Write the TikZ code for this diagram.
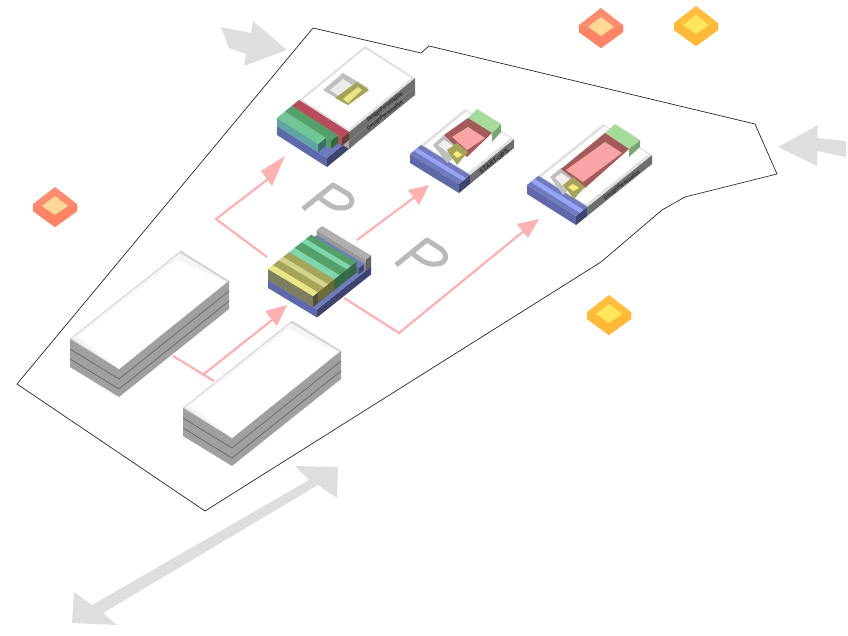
\documentclass[tikz,border=0pt]{standalone}
\usepackage{fontspec}
\setmainfont{Liberation Sans}
\usetikzlibrary{calc}
\definecolor{arr}{RGB}{222,222,222}
\definecolor{pk}{RGB}{255,176,176}
\definecolor{sg}{RGB}{160,160,160}
\definecolor{sd}{RGB}{105,105,105}
\definecolor{bluetop}{RGB}{112,122,190}
\definecolor{blueside}{RGB}{95,104,170}
\definecolor{bluelite}{RGB}{150,165,245}
\definecolor{ylite}{RGB}{232,230,135}
\definecolor{yolive}{RGB}{165,165,90}
\definecolor{ytan}{RGB}{212,212,140}
\definecolor{teal}{RGB}{125,215,170}
\definecolor{grn}{RGB}{85,160,105}
\definecolor{lgrn}{RGB}{165,220,155}
\definecolor{redtop}{RGB}{185,75,90}
\definecolor{rdark}{RGB}{165,90,90}
\definecolor{pinkf}{RGB}{250,165,165}
\definecolor{frame}{RGB}{224,224,224}
\definecolor{face}{RGB}{170,170,170}
\definecolor{backg}{RGB}{153,153,153}
\definecolor{backt}{RGB}{175,175,175}
\definecolor{oliveside}{RGB}{125,125,95}
\definecolor{tealside}{RGB}{95,165,165}
\definecolor{tealtop}{RGB}{113,198,150}
\definecolor{gemO}{RGB}{255,140,110}
\definecolor{gemOi}{RGB}{255,215,150}
\definecolor{gemOs}{RGB}{255,100,70}
\definecolor{gemY}{RGB}{255,190,60}
\definecolor{gemYi}{RGB}{255,230,90}
\definecolor{gemYs}{RGB}{255,165,30}
\tikzset{
 site/.style={draw=black!85,line width=.7pt},
 bigarrow/.style={fill=arr,draw=none},
 flow/.style={draw=pk,line width=2.2pt},
 flowtip/.style={fill=pk,draw=none},
 parkmark/.style={draw=black!27,line width=5pt,line join=round},
 micro/.style={font=\fontsize{5}{5.5}\selectfont\itshape\bfseries,text=black!85,inner sep=0pt},
}
% u0 u1 v0 v1 h0 h1 top side, relative to coordinates O, U, V
\newcommand{\ibox}[8]{%
 \coordinate (qa) at ($(O)+#1*(U)+#3*(V)+(0,-#6)$);
 \coordinate (qb) at ($(O)+#2*(U)+#3*(V)+(0,-#6)$);
 \coordinate (qc) at ($(O)+#2*(U)+#4*(V)+(0,-#6)$);
 \coordinate (qd) at ($(O)+#1*(U)+#4*(V)+(0,-#6)$);
 \coordinate (qe) at ($(O)+#1*(U)+#3*(V)+(0,-#5)$);
 \coordinate (qf) at ($(O)+#1*(U)+#4*(V)+(0,-#5)$);
 \coordinate (qg) at ($(O)+#2*(U)+#4*(V)+(0,-#5)$);
 \fill[#8] (qa) -- (qd) -- (qf) -- (qe) -- cycle;
 \fill[#8!65!black] (qd) -- (qc) -- (qg) -- (qf) -- cycle;
 \fill[#7] (qa) -- (qb) -- (qc) -- (qd) -- cycle;
}
% centre x y top inner side
\newcommand{\gem}[5]{%
 \begin{scope}[shift={(#1,#2)}]
 \fill[#5] (-22,-3) -- (0,13) -- (22,-3) -- (22,4) -- (0,20) -- (-22,4) -- cycle;
 \fill[#3] (-22,-3) -- (0,-20) -- (22,-3) -- (0,13) -- cycle;
 \fill[#3!80!#5] (-22,-3) -- (-13,0) -- (0,8) -- (13,0) -- (22,-3) -- (22,4) -- (0,20) -- (-22,4) -- cycle;
 \fill[#4] (-13,-1) -- (0,-11) -- (13,-1) -- (0,8) -- cycle;
 \end{scope}
}
% long building: L, back, right, front of the roof
\newcommand{\longblock}[4]{%
 \fill[sg] (#1) -- (#2) -- (#3) -- ($(#3)+(0,28)$) -- ($(#4)+(0,28)$) -- ($(#1)+(0,28)$) -- cycle;
 \draw[sd,line width=.7pt] ($(#1)+(0,10)$) -- ($(#4)+(0,10)$) -- ($(#3)+(0,10)$);
 \draw[sd,line width=.7pt] ($(#1)+(0,20)$) -- ($(#4)+(0,20)$) -- ($(#3)+(0,20)$);
 \fill[black!16] (#1) -- (#2) -- (#3) -- (#4) -- cycle;
 \fill[black!4] ($(#1)!.012!(#3)$) -- ($(#2)!.018!(#4)$) -- ($(#3)!.012!(#1)$) -- (#4) -- cycle;
 \fill[white] ($(#1)!.05!(#3)$) -- ($(#2)!.07!(#4)$) -- ($(#3)!.02!(#1)$) -- (#4) -- cycle;
}
\begin{document}
\begin{tikzpicture}[x=1pt,y=-1pt]
\useasboundingbox (0,0) rectangle (848,635);
% site boundary
\draw[site] (17,384) -- (313,28) -- (421,53) -- (429,46) -- (755,124) -- (777,174) -- (685,197) -- (662,210) -- (601,262) -- (205,511) -- cycle;
% big arrows
\fill[bigarrow] (221,27) -- (251,33) -- (253,21) -- (287,50) -- (244,66) -- (246,54) -- (229,48) -- cycle;
\fill[bigarrow] (818,125) -- (817,138) -- (846,141) -- (846,157) -- (817,151) -- (817,166) -- (778,147) -- cycle;
\fill[bigarrow] (338,467) -- (295,466) -- (309,480) -- (92,605) -- (74,592) -- (72,623) -- (117,625) -- (103,613) -- (318,485) -- (337,498) -- cycle;
% gems
\gem{601}{28}{gemO}{gemOi}{gemOs}
\gem{696}{26}{gemY}{gemYi}{gemYs}
\gem{55}{207}{gemO}{gemOi}{gemOs}
\gem{609}{315}{gemY}{gemYi}{gemYs}
% P marks
\draw[parkmark] (303,209) -- (333,185) -- (348,194) .. controls (355,200) and (352,208) .. (342,208) .. controls (335,209) and (328,205) .. (319,197);
\draw[parkmark] (396,265) -- (427,240) -- (441,249) .. controls (449,255) and (446,264) .. (436,264) .. controls (428,265) and (421,261) .. (412,253);
% pink connectors
\draw[flow] (267,257) -- (216,219) -- (268,179);
\fill[flowtip] (285,156) -- (272,186) -- (261,171) -- cycle;
\draw[flow] (357,240) -- (416,196);
\fill[flowtip] (429,185) -- (419,205) -- (408,190) -- cycle;
\draw[flow] (344,298) -- (399,333) -- (525,230);
\fill[flowtip] (539,219) -- (528,238) -- (517,224) -- cycle;
\draw[flow] (173,356) -- (214,381);
\draw[flow] (204,374) -- (272,320);
\fill[flowtip] (287,305) -- (277,326) -- (265,311) -- cycle;
% long buildings
\longblock{70,339}{181,251}{229,281}{119,369}
\longblock{183,408}{292,321}{341,351}{232,438}
% centre block
\coordinate (O) at (268,288); \coordinate (U) at (54,-43); \coordinate (V) at (49,29.5);
\ibox{0}{1}{0}{1}{0}{8}{bluetop}{blueside}
\ibox{.9}{1}{0}{1}{8}{19}{backt}{backg}
\ibox{.8}{.9}{.0}{.97}{8}{14}{bluetop}{blueside}
\ibox{.7}{.8}{0}{.92}{8}{19}{grn}{grn}
\ibox{.62}{.7}{0}{.92}{8}{19}{teal}{grn}
\ibox{.49}{.62}{0}{.92}{8}{19}{grn}{grn}
\ibox{.39}{.49}{0}{.92}{8}{19}{teal}{grn}
\ibox{.28}{.39}{0}{.92}{8}{19}{yolive}{yolive}
\ibox{.2}{.28}{0}{.92}{8}{19}{ytan}{yolive}
\ibox{.09}{.2}{0}{.92}{8}{19}{yolive}{yolive}
\ibox{0}{.09}{0}{.92}{8}{19}{ylite}{oliveside}
% top building
\coordinate (O) at (277,135); \coordinate (U) at (88,-72); \coordinate (V) at (50,32);
\ibox{0}{.3}{0}{1}{0}{9}{bluetop}{blueside}
\ibox{.25}{1}{0}{1}{0}{17}{frame}{face}
\ibox{.27}{.98}{.04}{.96}{17}{17}{white}{white}
\draw[black!45,line width=.5pt] ($(O)+.25*(U)+(V)+(0,-8)$) -- ($(O)+(U)+(V)+(0,-8)$);
\ibox{.17}{.25}{0}{1}{9}{17}{redtop}{rdark}
\ibox{.09}{.17}{0}{.92}{9}{17}{grn}{grn}
\ibox{0}{.09}{0}{.82}{9}{17}{tealtop}{tealside}
% void and yellow core on the top building
\fill[black!25] (323,90) -- (343,73) -- (368,88) -- (348,105) -- cycle;
\fill[black!8] (330,90) -- (343,79) -- (355,87) -- (340,97) -- cycle;
\fill[yolive] (335,98) -- (357,82) -- (369,90) -- (348,105) -- cycle;
\fill[ylite] (343,99) -- (358,87) -- (362,90) -- (348,103) -- cycle;
\node[micro,rotate=38] (t1) at (385,107) {DesignPersonalize};
\node[micro,rotate=38] (t2) at (385,115.5) {DesignPersonalize};
% start-ups building
\coordinate (O) at (410,163); \coordinate (U) at (55,-45); \coordinate (V) at (49,30);
\ibox{.2}{1}{0}{1}{0}{9}{frame}{face}
\ibox{.22}{.98}{.05}{.95}{9}{9}{white}{white}
\ibox{0}{.2}{0}{1}{0}{9}{bluetop}{blueside}
\fill[bluelite] ($(O)+.07*(U)+(0,-9)$) -- ($(O)+.13*(U)+(0,-9)$) -- ($(O)+.13*(U)+(V)+(0,-9)$) -- ($(O)+.07*(U)+(V)+(0,-9)$) -- cycle;
\fill[black!25] (433,145) -- (444,135) -- (465,150) -- (447,163) -- cycle;
\fill[black!6] (438,145) -- (444,140) -- (455,147) -- (447,152) -- cycle;
\fill[lgrn!75!black] (492,133) -- (501,124) -- (501,132) -- (492,142) -- cycle;
\fill[lgrn] (468,118) -- (477,109) -- (501,124) -- (492,133) -- cycle;
\fill[rdark] (444,135) -- (468,118) -- (492,133) -- (467,157) -- cycle;
\fill[pinkf] (452,137) -- (468,127) -- (485,138) -- (467,150) -- cycle;
\fill[yolive] (447,150) -- (457,143) -- (468,152) -- (457,165) -- cycle;
\fill[gemYi!80!white] (453,154) -- (457,151) -- (462,155) -- (457,158) -- cycle;
\node[micro,rotate=38,font=\fontsize{6.4}{7}\selectfont\itshape\bfseries] (t3) at (494,161.5) {START-UPS};
% right building
\coordinate (O) at (527,194); \coordinate (U) at (76,-61); \coordinate (V) at (49,31);
\ibox{.15}{1}{0}{1}{0}{9}{frame}{face}
\ibox{.165}{.985}{.05}{.95}{9}{9}{white}{white}
\ibox{0}{.15}{0}{1}{0}{9}{bluetop}{blueside}
\fill[bluelite] ($(O)+.05*(U)+(0,-9)$) -- ($(O)+.1*(U)+(0,-9)$) -- ($(O)+.1*(U)+(V)+(0,-9)$) -- ($(O)+.05*(U)+(V)+(0,-9)$) -- cycle;
\fill[black!25] (550,177) -- (561,168) -- (578,180) -- (563,195) -- cycle;
\fill[black!6] (555,178) -- (561,173) -- (571,180) -- (563,186) -- cycle;
\fill[lgrn!75!black] (629,149) -- (640,140) -- (640,147) -- (629,157) -- cycle;
\fill[lgrn] (605,133) -- (615,124) -- (640,140) -- (629,149) -- cycle;
\fill[rdark] (561,169) -- (605,133) -- (629,149) -- (585,188) -- cycle;
\fill[pinkf] (566,170) -- (605,142) -- (622,153) -- (583,182) -- cycle;
\fill[yolive] (563,185) -- (573,177) -- (585,187) -- (574,199) -- cycle;
\fill[gemYi!80!white] (568,187) -- (573,184) -- (579,188) -- (573,191) -- cycle;
\node[micro,rotate=38] (t4) at (622,185.5) {DesignPersonalize};
\end{tikzpicture}
\end{document}
